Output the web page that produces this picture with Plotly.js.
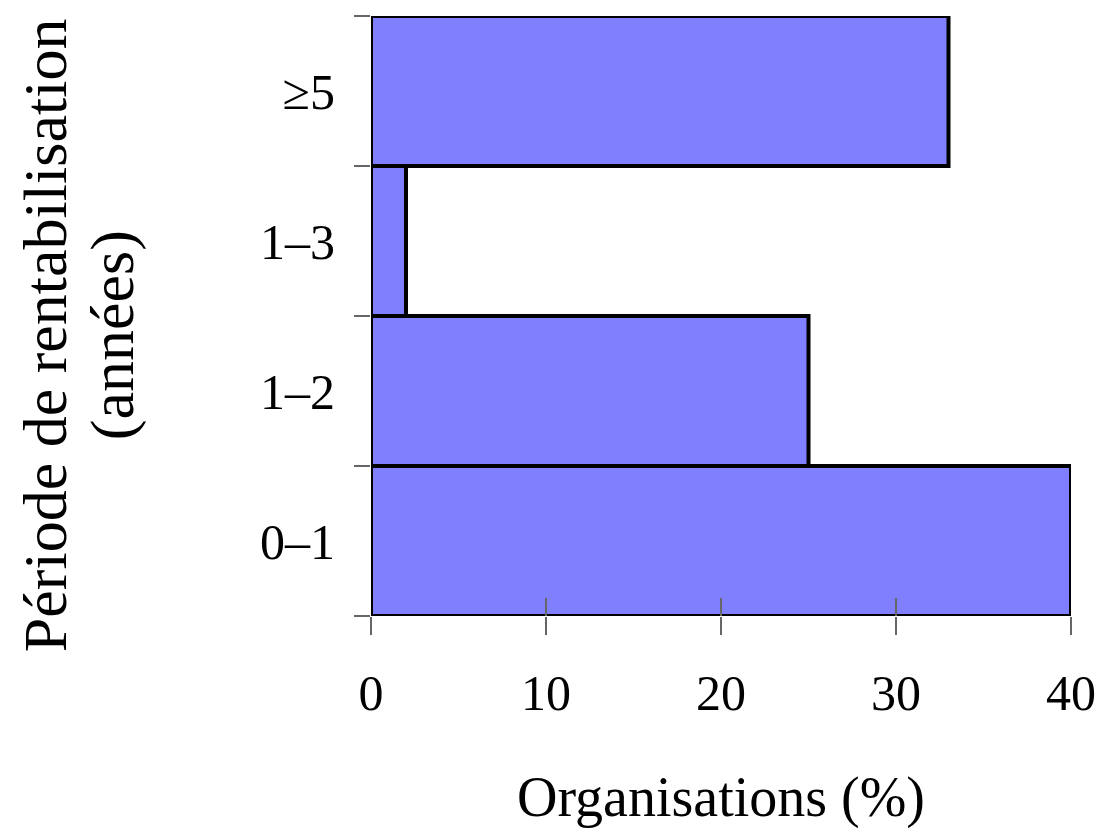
<!DOCTYPE html>
<html><head><meta charset="utf-8">
<script src="https://cdn.plot.ly/plotly-3.0.1.min.js"></script>
<style>body{margin:0;background:#fff}#c{width:1101px;height:837px}</style>
</head><body><div id="c"></div>
<script>
var categories = ["0–1", "1–2", "1–3", "≥5"];
var values = [40, 25, 2, 33];
var xTicks = [0, 10, 20, 30, 40];
var yTitleLines = ["Période de rentabilisation", "(années)"];

var font = "Liberation Serif, Times New Roman, serif";
var trace = {
  type: "bar", orientation: "h", y: categories, x: values,
  marker: {color: "#8080FF", line: {color: "#000", width: 4}},
  hoverinfo: "none"
};
var layout = {
  width: 1101, height: 837,
  margin: {l: 371, r: 30, t: 16, b: 221},
  paper_bgcolor: "#fff", plot_bgcolor: "#fff",
  bargap: 0, showlegend: false,
  font: {family: font, color: "#000", size: 50},
  xaxis: {
    range: [0, 40], tickvals: xTicks, ticktext: xTicks.map(String),
    showgrid: false, zeroline: false, showline: false,
    ticks: "outside", ticklen: 18, tickwidth: 1.5, tickcolor: "#666",
    ticklabelstandoff: 15,
    tickfont: {family: font, size: 50, color: "#000"},
    title: {text: "Organisations (%)", font: {family: font, size: 56, color: "#000"}, standoff: 56}
  },
  xaxis2: {
    overlaying: "x", side: "bottom", anchor: "y", range: [0, 40], tickvals: xTicks,
    showticklabels: false, showgrid: false, zeroline: false, showline: false,
    ticks: "inside", ticklen: 18, tickwidth: 1.5, tickcolor: "#666"
  },
  yaxis: {
    type: "category", categoryarray: categories,
    showgrid: false, zeroline: false, showline: false,
    ticks: "outside", tickson: "boundaries", ticklen: 16, tickwidth: 1.5, tickcolor: "#666",
    ticklabelstandoff: 35,
    tickfont: {family: font, size: 50, color: "#000"}
  },
  annotations: [
    {text: yTitleLines[0], xref: "paper", yref: "paper", x: -0.4657, y: 0.468, xanchor: "center", yanchor: "middle",
     textangle: -90, showarrow: false, font: {family: font, size: 62, color: "#000"}},
    {text: yTitleLines[1], xref: "paper", yref: "paper", x: -0.37, y: 0.468, xanchor: "center", yanchor: "middle",
     textangle: -90, showarrow: false, font: {family: font, size: 62, color: "#000"}}
  ]
};
var dummy = {type: "scatter", x: [0], y: [categories[0]], xaxis: "x2", mode: "none", hoverinfo: "none"};
Plotly.newPlot("c", [trace, dummy], layout, {displayModeBar: false, staticPlot: true});
</script></body></html>
